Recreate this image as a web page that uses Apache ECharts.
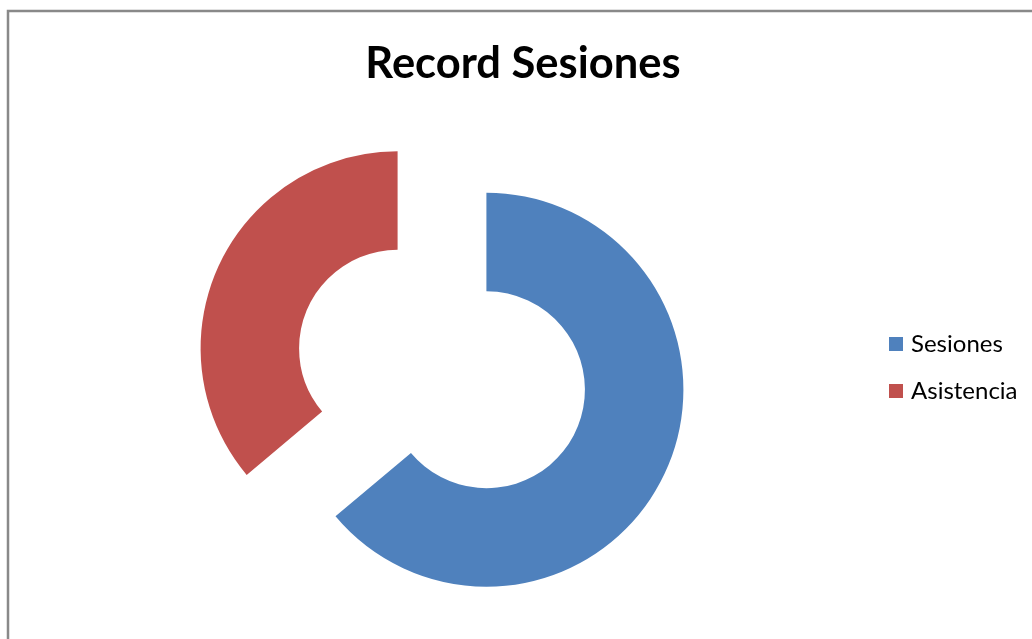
<!DOCTYPE html>
<html>
<head>
<meta charset="utf-8">
<script src="https://cdn.jsdelivr.net/npm/echarts@6/dist/echarts.min.js"></script>
<style>html,body{margin:0;padding:0;background:#fff}#c{width:1032px;height:639px}</style>
</head>
<body>
<div id="c"></div>
<script>
var categories = ['Sesiones', 'Asistencia'];
var values = [23, 13];
var colors = ['#4F81BD', '#C0504D'];
var titleText = 'Record Sesiones';

var chart = echarts.init(document.getElementById('c'), null, {renderer: 'canvas'});
chart.setOption({
  animation: false,
  backgroundColor: '#ffffff',
  title: {
    text: titleText,
    left: 518,
    textAlign: 'center',
    top: 37,
    padding: 5,
    textStyle: {fontFamily: 'Lato', fontWeight: 'bold', fontSize: 43.5, color: '#000'}
  },
  legend: {
    orient: 'vertical',
    left: 889,
    top: 332,
    padding: 0,
    icon: 'rect',
    itemWidth: 14,
    itemHeight: 14,
    itemGap: 23,
    selectedMode: false,
    data: categories,
    textStyle: {fontFamily: 'Lato', fontSize: 24, color: '#000', lineHeight: 24, padding: [0, 0, 0, 3]}
  },
  graphic: [{
    type: 'rect',
    silent: true,
    shape: {x: 8, y: 11, width: 1200, height: 800},
    style: {fill: 'none', stroke: '#898989', lineWidth: 2.5}
  }],
  series: [{
    type: 'pie',
    center: [442, 369],
    radius: [98.5, 197],
    startAngle: 90,
    clockwise: true,
    selectedMode: 'multiple',
    selectedOffset: 49,
    label: {show: false},
    labelLine: {show: false},
    emphasis: {disabled: true},
    data: categories.map(function (c, i) {
      return {name: c, value: values[i], selected: true, itemStyle: {color: colors[i]}};
    })
  }]
});
</script>
</body>
</html>
